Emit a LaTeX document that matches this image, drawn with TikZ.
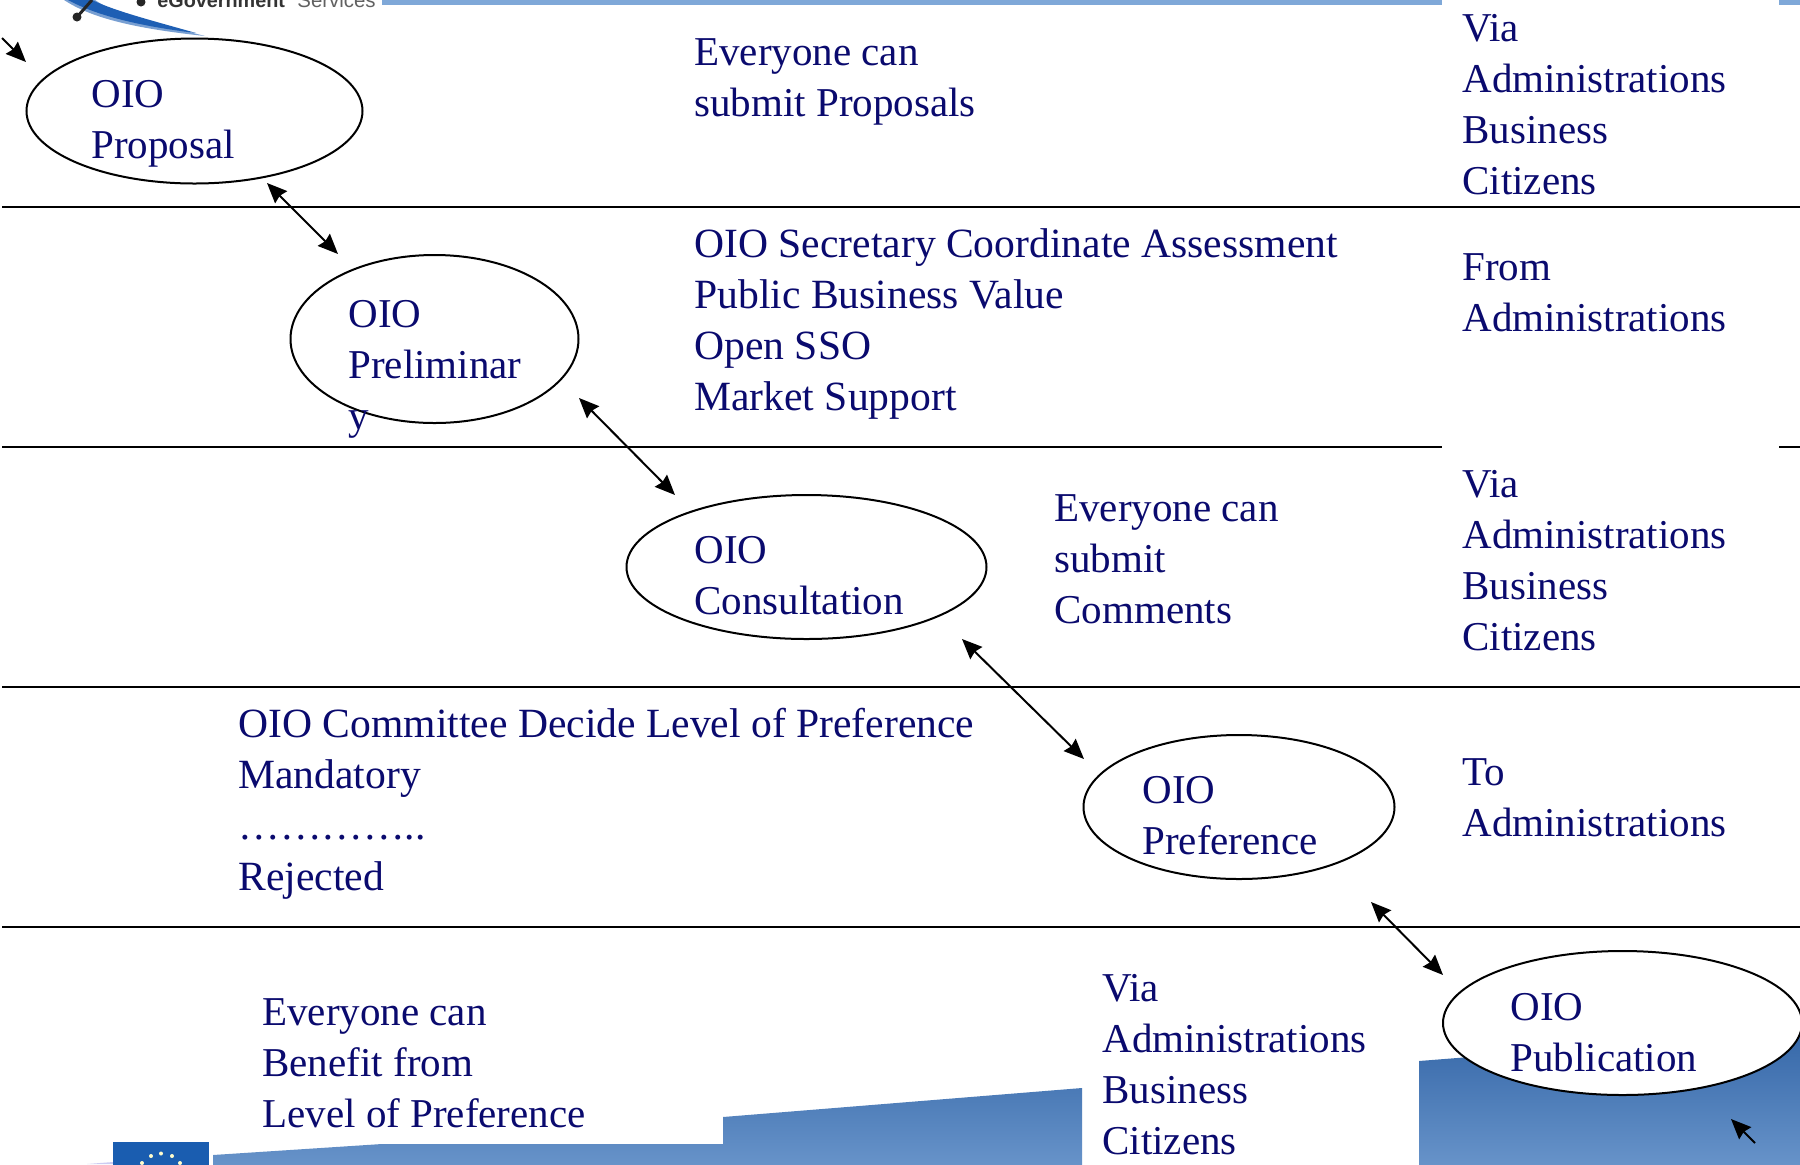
\documentclass[tikz,border=0pt]{standalone}
\usepackage{fontspec}
\setmainfont{Liberation Serif}
\newfontfamily\logofont{Liberation Sans}
\usetikzlibrary{arrows.meta,shapes.geometric}
\definecolor{inktext}{HTML}{0A0A6E}
\definecolor{barblue}{HTML}{7FA8D8}
\definecolor{bandtop}{HTML}{3567A8}
\definecolor{bandbot}{HTML}{6793C9}
\definecolor{flagblue}{HTML}{1A5DB0}
\definecolor{swoosh}{HTML}{1E5FB4}
\tikzset{
  lbl/.style={anchor=base west,inner sep=0pt,align=left,text=inktext,font=\fontsize{20.5}{25.5}\selectfont},
  lblwide/.style={lbl,font=\fontsize{20.8}{25.5}\selectfont},
  oval/.style={draw=black,line width=1pt,fill=white,ellipse,inner sep=0pt},
  rowline/.style={draw=black,line width=1pt},
  link/.style={line width=1pt,{Stealth[length=10pt,width=8.5pt,inset=1pt]}-{Stealth[length=10pt,width=8.5pt,inset=1pt]}},
  onelink/.style={line width=1pt,-{Stealth[length=10pt,width=8.5pt,inset=1pt]}}
}
\begin{document}
\begin{tikzpicture}[x=0.5pt,y=-0.5pt]
\clip (0,0) rectangle (1800,1164);
\fill[white] (0,0) rectangle (1800,1164);
% top bar
\fill[barblue] (382,0) rectangle (1442,5);
\fill[barblue] (1779,0) rectangle (1800,5);
% logo
\fill[swoosh!60!white] (64,0) .. controls (90,17) and (130,28) .. (205,36) .. controls (150,22) and (115,14) .. (95,0) -- cycle;
\fill[swoosh] (68,0) .. controls (92,13) and (130,25) .. (196,33) .. controls (150,20) and (115,11) .. (92,0) -- cycle;
\draw[line width=1.5pt,black!85] (92,0) -- (77,17);
\fill[black!85] (77,17) circle (4.5);
\fill[black!85] (141,2) circle (4.5);
\node[anchor=base west,inner sep=0pt,font=\logofont\fontsize{9.9}{12}\selectfont\bfseries,text=black!80] (logoa) at (157,7) {eGovernment};
\node[anchor=base west,inner sep=0pt,font=\logofont\fontsize{10.2}{12}\selectfont,text=black!62] (logob) at (297,7) {Services};
% bottom band
\shade[top color=bandtop,bottom color=bandbot]
  (213,1165) -- (213,1155) -- (382,1144) -- (723,1144) -- (723,1117) -- (1082,1088) -- (1082,1165) -- cycle
  (1419,1165) -- (1419,1061) -- (1800,1031) -- (1800,1165) -- cycle;
\fill[black!25!blue!20!white] (87,1164) -- (113,1162) -- (113,1164) -- cycle;
\fill[flagblue] (113,1142) rectangle (209,1165);
\foreach \sx/\sy in {142/1163,151/1156,161/1153.5,172/1156,180/1163}{\fill[yellow!20!white] (\sx,\sy) circle (2);}
% rows
\draw[rowline] (2,207) -- (1800,207);
\draw[rowline] (2,447) -- (1442,447);
\draw[rowline] (1779,447) -- (1800,447);
\draw[rowline] (2,687) -- (1800,687);
\draw[rowline] (2,927) -- (1800,927);
% ellipses
\node[oval,minimum width=168pt,minimum height=72.5pt] (prop) at (194.5,111) {};
\node[oval,minimum width=144pt,minimum height=84pt] (prel) at (434.5,339) {};
\node[oval,minimum width=180pt,minimum height=72pt] (cons) at (806.5,567) {};
\node[oval,minimum width=155.5pt,minimum height=72pt] (pref) at (1239,807) {};
\node[oval,minimum width=179.5pt,minimum height=72pt] (publ) at (1622.5,1023) {};
% arrow ends
\coordinate (a0s) at (2,38);   \coordinate (a0e) at (26,62);
\coordinate (a1s) at (267,183); \coordinate (a1e) at (338,254);
\coordinate (a2s) at (579,398); \coordinate (a2e) at (675,495);
\coordinate (a3s) at (962,639); \coordinate (a3e) at (1084,759);
\coordinate (a4s) at (1371,902); \coordinate (a4e) at (1443,975);
\coordinate (a5s) at (1755,1143); \coordinate (a5e) at (1731,1119);
\draw[onelink] (a0s) -- (a0e);
\draw[link] (a1s) -- (a1e);
\draw[link] (a2s) -- (a2e);
\draw[link] (a3s) -- (a3e);
\draw[link] (a4s) -- (a4e);
\draw[onelink] (a5s) -- (a5e);
% labels
\node[lbl] (t1) at (91,158.5) {OIO\\Proposal};
\node[lbl] (t2) at (694,116) {Everyone can\\submit Proposals};
\node[lbl] (t3) at (1462,194) {Via\\Administrations\\Business\\Citizens};
\node[lbl] (t4) at (348,429) {OIO\\Preliminar\\y};
\node[lblwide] (t5) at (694,410.5) {OIO Secretary Coordinate Assessment\\Public Business Value\\Open SSO\\Market Support};
\node[lbl] (t6) at (1462,331) {From\\Administrations};
\node[lbl] (t7) at (694,614) {OIO\\Consultation};
\node[lbl] (t8) at (1054,623.5) {Everyone can\\submit\\Comments};
\node[lbl] (t9) at (1462,650.5) {Via\\Administrations\\Business\\Citizens};
\node[lblwide] (t10) at (238,890.5) {OIO Committee Decide Level of Preference\\Mandatory\\…………..\\Rejected};
\node[lbl] (t11) at (1142,854.5) {OIO\\Preference};
\node[lbl] (t12) at (1462,836.5) {To\\Administrations};
\node[lbl] (t13) at (262,1127) {Everyone can\\Benefit from\\Level of Preference};
\node[lbl] (t14) at (1102,1154) {Via\\Administrations\\Business\\Citizens};
\node[lbl] (t15) at (1510,1071) {OIO\\Publication};
\end{tikzpicture}
\end{document}
